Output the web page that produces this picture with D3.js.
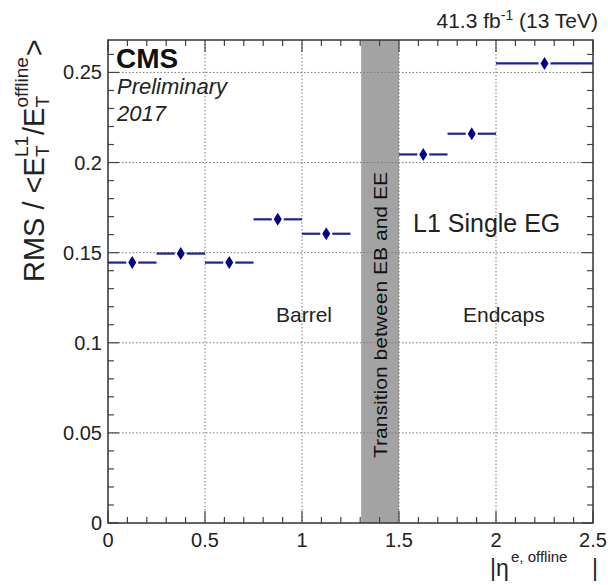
<!DOCTYPE html>
<html>
<head>
<meta charset="utf-8">
<script src="https://cdn.jsdelivr.net/npm/d3@7"></script>
<style>
  html, body { margin: 0; padding: 0; background: #fff; }
  svg { display: block; font-family: "Liberation Sans", Arial, sans-serif; }
</style>
</head>
<body>
<svg id="chart" width="608" height="585"></svg>
<script>
// ---- data ----
const binLow = [0, 0.25, 0.5, 0.75, 1.0, 1.5, 1.75, 2.0];
const binHigh = [0.25, 0.5, 0.75, 1.0, 1.25, 1.75, 2.0, 2.5];
const rmsValues = [0.1445, 0.1495, 0.1445, 0.1685, 0.1605, 0.2045, 0.2160, 0.2550];
const transitionBand = [1.305, 1.5];
const xTicks = [0, 0.5, 1, 1.5, 2, 2.5];
const xTickLabels = ["0", "0.5", "1", "1.5", "2", "2.5"];
const yTicks = [0, 0.05, 0.1, 0.15, 0.2, 0.25];
const yTickLabels = ["0", "0.05", "0.1", "0.15", "0.2", "0.25"];
const xMinorTicks = d3.range(0, 26).map(i => i / 10);
const yMinorTicks = d3.range(0, 27).map(i => i / 100);

const svg = d3.select("#chart");
const L = 108, R = 593, T = 40, B = 523;
const x = d3.scaleLinear().domain([0, 2.5]).range([L, R]);
const y = d3.scaleLinear().domain([0, 0.268]).range([B, T]);

// transition band
svg.append("rect")
  .attr("x", x(transitionBand[0])).attr("y", T)
  .attr("width", x(transitionBand[1]) - x(transitionBand[0]))
  .attr("height", B - T)
  .attr("fill", "#a3a3a3");

// grid lines
const grid = svg.append("g").attr("stroke", "#7a7a7a").attr("stroke-width", 1).attr("stroke-dasharray", "1.5,2");
grid.selectAll(".gx").data(xTicks.slice(1, -1)).join("line")
  .attr("x1", d => x(d)).attr("x2", d => x(d)).attr("y1", T).attr("y2", B);
grid.selectAll(".gy").data(yTicks.slice(1)).join("line")
  .attr("x1", L).attr("x2", R).attr("y1", d => y(d)).attr("y2", d => y(d));

// ticks (all four sides, inward)
const tk = svg.append("g").attr("stroke", "#444").attr("stroke-width", 1.2);
const isMajorX = v => xTicks.some(t => Math.abs(t - v) < 1e-9);
const isMajorY = v => yTicks.some(t => Math.abs(t - v) < 1e-9);
xMinorTicks.forEach(v => {
  const len = isMajorX(v) ? 12 : 6;
  tk.append("line").attr("x1", x(v)).attr("x2", x(v)).attr("y1", B).attr("y2", B - len);
  tk.append("line").attr("x1", x(v)).attr("x2", x(v)).attr("y1", T).attr("y2", T + len);
});
yMinorTicks.forEach(v => {
  const len = isMajorY(v) ? 11 : 6;
  tk.append("line").attr("x1", L).attr("x2", L + len).attr("y1", y(v)).attr("y2", y(v));
  tk.append("line").attr("x1", R).attr("x2", R - len).attr("y1", y(v)).attr("y2", y(v));
});

// frame
svg.append("rect").attr("x", L).attr("y", T).attr("width", R - L).attr("height", B - T)
  .attr("fill", "none").attr("stroke", "#333").attr("stroke-width", 1.5);

// tick labels
svg.append("g").selectAll("text").data(xTicks).join("text")
  .attr("x", d => x(d)).attr("y", B + 24)
  .attr("text-anchor", "middle").attr("font-size", 20).attr("fill", "#222")
  .text((d, i) => xTickLabels[i]);
svg.append("g").selectAll("text").data(yTicks).join("text")
  .attr("x", L - 6).attr("y", d => y(d) + 7)
  .attr("text-anchor", "end").attr("font-size", 20).attr("fill", "#222")
  .text((d, i) => yTickLabels[i]);

// data points
const pts = binLow.map((lo, i) => ({ lo, hi: binHigh[i], v: rmsValues[i], c: (lo + binHigh[i]) / 2 }));
const pg = svg.append("g");
pg.selectAll(".l1").data(pts).join("line")
  .attr("x1", d => x(d.lo)).attr("x2", d => x(d.c) - 6)
  .attr("y1", d => y(d.v)).attr("y2", d => y(d.v))
  .attr("stroke", "#1f1f9e").attr("stroke-width", 2.2);
pg.selectAll(".l2").data(pts).join("line")
  .attr("x1", d => x(d.c) + 6).attr("x2", d => x(d.hi))
  .attr("y1", d => y(d.v)).attr("y2", d => y(d.v))
  .attr("stroke", "#1f1f9e").attr("stroke-width", 2.2);
pg.selectAll("path").data(pts).join("path")
  .attr("d", d => {
    const cx = x(d.c), cy = y(d.v);
    return `M${cx},${cy - 6.5}L${cx + 4},${cy}L${cx},${cy + 6.5}L${cx - 4},${cy}Z`;
  })
  .attr("fill", "#000088");

// texts
svg.append("text").attr("x", 116).attr("y", 68).attr("font-size", 28).attr("font-weight", "bold")
  .attr("fill", "#111").text("CMS");
svg.append("text").attr("x", 117).attr("y", 94).attr("font-size", 22).attr("font-style", "italic")
  .attr("fill", "#222").text("Preliminary");
svg.append("text").attr("x", 117).attr("y", 121).attr("font-size", 22).attr("font-style", "italic")
  .attr("fill", "#222").text("2017");

const lumi = svg.append("text").attr("x", 598).attr("y", 28).attr("text-anchor", "end")
  .attr("font-size", 21).attr("fill", "#222");
lumi.append("tspan").text("41.3 fb");
lumi.append("tspan").attr("font-size", 14).attr("dy", -8).text("-1");
lumi.append("tspan").attr("dy", 8).text(" (13 TeV)");

svg.append("text").attr("x", 413).attr("y", 232).attr("font-size", 25).attr("fill", "#222").text("L1 Single EG");
svg.append("text").attr("x", 276).attr("y", 322).attr("font-size", 21).attr("fill", "#222").text("Barrel");
svg.append("text").attr("x", 463).attr("y", 322).attr("font-size", 21).attr("fill", "#222").text("Endcaps");

svg.append("text")
  .attr("transform", `translate(${(x(transitionBand[0]) + x(transitionBand[1])) / 2 + 7},315) rotate(-90)`)
  .attr("text-anchor", "middle").attr("font-size", 18.5).attr("fill", "#111")
  .attr("textLength", 286).attr("lengthAdjust", "spacingAndGlyphs")
  .text("Transition between EB and EE");

// y axis label (rotated), built piece by piece
const yl = svg.append("g").attr("transform", "translate(44,282) rotate(-90)").attr("fill", "#222");
let cur = 0;
function piece(str, size, dy) {
  const t = yl.append("text").attr("x", cur).attr("y", dy).attr("font-size", size).text(str);
  return t.node().getComputedTextLength();
}
const mainSize = 29, scr = 19;
cur += piece("RMS / <E", mainSize, 0);
let w1 = piece("T", scr, 5);
let w2 = piece("L1", scr, -16);
cur += Math.max(w1, w2) + 1;
cur += piece("/E", mainSize, 0);
w1 = piece("T", scr, 5);
w2 = piece("offline", scr, -16);
cur += Math.max(w1, w2) + 1;
piece(">", mainSize, 0);

// x axis label
const xl = svg.append("g").attr("fill", "#222");
xl.append("text").attr("x", 490).attr("y", 576).attr("font-size", 23).text("|η");
xl.append("text").attr("x", 511).attr("y", 562).attr("font-size", 15).text("e, offline");
xl.append("text").attr("x", 592).attr("y", 576).attr("font-size", 23).text("|");
</script>
</body>
</html>
